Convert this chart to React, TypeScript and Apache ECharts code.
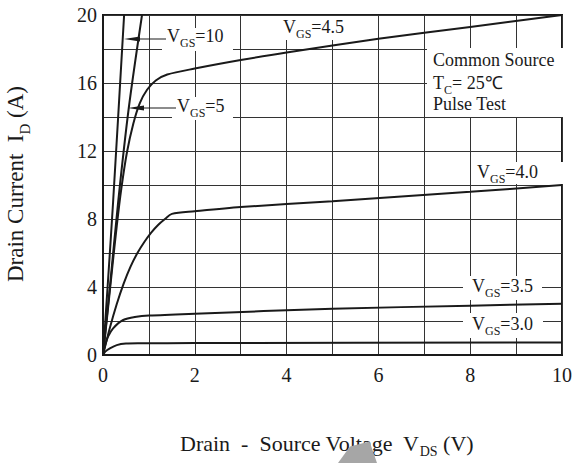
import React, { useEffect, useRef } from "react";
import * as echarts from "echarts";

const FONT = '"Liberation Serif", "Times New Roman", serif';
const INK = "#1a1a1a";

const xTicks = [0, 2, 4, 6, 8, 10];
const yTicks = [0, 4, 8, 12, 16, 20];

const vgs10: number[][] = [[0, 0], [0.1, 4], [0.22, 9], [0.46, 20]];
const vgs5: number[][] = [[0, 0], [0.15, 4], [0.33, 9], [0.56, 14.5], [0.85, 20]];
const vgs45: number[][] = [
  [0, 0], [0.1, 2.5], [0.2, 5.1], [0.3, 7.6], [0.4, 9.8], [0.52, 11.9], [0.66, 13.6],
  [0.8, 14.8], [0.96, 15.6], [1.15, 16.15], [1.4, 16.5], [2, 16.85], [3, 17.35],
  [4, 17.8], [6, 18.6], [8, 19.3], [10, 20],
];
const vgs40: number[][] = [
  [0, 0], [0.15, 1.6], [0.3, 3.0], [0.45, 4.2], [0.6, 5.2], [0.75, 6.0], [0.9, 6.65],
  [1.05, 7.2], [1.2, 7.65], [1.35, 8.0], [1.5, 8.3], [2, 8.45], [3, 8.7], [5, 9.05],
  [8, 9.6], [10, 10],
];
const vgs35: number[][] = [
  [0, 0], [0.05, 0.6], [0.11, 1.08], [0.22, 1.57], [0.44, 2.06], [0.73, 2.25],
  [1, 2.32], [2, 2.43], [5, 2.72], [8, 2.9], [10, 3.02],
];
const vgs30: number[][] = [
  [0, 0], [0.05, 0.2], [0.15, 0.39], [0.3, 0.58], [0.5, 0.67], [0.8, 0.69],
  [2, 0.7], [10, 0.74],
];

const curves = [vgs10, vgs5, vgs45, vgs40, vgs35, vgs30];

const rich = {
  v: { fontSize: 18, fontFamily: FONT, color: INK, lineHeight: 20, verticalAlign: "top" },
  s: { fontSize: 12, fontFamily: FONT, color: INK, lineHeight: 22, verticalAlign: "bottom" },
  p: { fontSize: 18, fontFamily: FONT, color: INK, lineHeight: 14 },
};
const richX = {
  v: { fontSize: 22, fontFamily: FONT, color: INK, lineHeight: 24, verticalAlign: "top" },
  s: { fontSize: 14, fontFamily: FONT, color: INK, lineHeight: 26, verticalAlign: "bottom" },
};
const richY = {
  v: { fontSize: 23, fontFamily: FONT, color: INK, lineHeight: 26, verticalAlign: "top" },
  s: { fontSize: 15, fontFamily: FONT, color: INK, lineHeight: 28, verticalAlign: "bottom" },
};

function label(text: string, x: number, y: number, align = "left", r: any = rich) {
  return {
    type: "text",
    x,
    y,
    z: 3,
    style: { text, rich: r, align, verticalAlign: "middle", fill: INK, font: `18px ${FONT}` },
  };
}

function box(x: number, y: number, w: number, h: number) {
  return { type: "rect", z: 1, shape: { x, y, width: w, height: h }, style: { fill: "#fff" } };
}

export default function App() {
  const ref = useRef<HTMLDivElement>(null);
  useEffect(() => {
    document.body.style.margin = "0";
    if (!ref.current) return;
    const chart = echarts.init(ref.current, null, { renderer: "svg" });
    chart.setOption({
      animation: false,
      backgroundColor: "#fff",
      grid: { left: 103, right: 9, top: 15, bottom: 108, show: true, borderColor: INK, borderWidth: 2 },
      xAxis: {
        type: "value",
        min: 0,
        max: 10,
        interval: 1,
        axisLine: { show: true, lineStyle: { color: INK, width: 2 } },
        axisTick: { show: false },
        splitLine: { show: true, lineStyle: { color: "#333", width: 1 } },
        axisLabel: {
          margin: 10,
          color: INK,
          fontFamily: FONT,
          fontSize: 20,
          formatter: (v: number) => (xTicks.includes(v) ? String(v) : ""),
        },
      },
      yAxis: {
        type: "value",
        min: 0,
        max: 20,
        interval: 2,
        axisLine: { show: true, lineStyle: { color: INK, width: 2 } },
        axisTick: { show: false },
        splitLine: { show: true, lineStyle: { color: "#333", width: 1 } },
        axisLabel: {
          margin: 6,
          color: INK,
          fontFamily: FONT,
          fontSize: 20,
          formatter: (v: number) => (yTicks.includes(v) ? String(v) : ""),
        },
      },
      series: curves.map((d) => ({
        type: "line",
        data: d,
        smooth: 0.3,
        showSymbol: false,
        symbol: "none",
        clip: true,
        lineStyle: { color: INK, width: 2 },
        z: 2,
      })),
      graphic: [
        box(162, 28, 71, 23),
        box(172, 97, 61, 23),
        box(278, 16, 72, 24),
        box(427, 48, 137, 69),
        box(472, 162, 92, 22),
        box(463, 276, 79, 24),
        box(463, 313, 80, 25),
        { type: "line", z: 3, shape: { x1: 166, y1: 39, x2: 132, y2: 39 }, style: { stroke: INK, lineWidth: 1.2 } },
        { type: "polygon", z: 3, shape: { points: [[124, 39], [140, 36.5], [140, 41.5]] }, style: { fill: INK } },
        { type: "line", z: 3, shape: { x1: 176, y1: 108, x2: 136, y2: 108 }, style: { stroke: INK, lineWidth: 1.2 } },
        { type: "polygon", z: 3, shape: { points: [[128, 108], [144, 105.5], [144, 110.5]] }, style: { fill: INK } },
        label("{v|V}{s|GS}{v|=10}", 167, 38),
        label("{v|V}{s|GS}{v|=5}", 177, 108),
        label("{v|V}{s|GS}{v|=4.5}", 283, 29),
        label("{v|V}{s|GS}{v|=4.0}", 477, 174),
        label("{v|V}{s|GS}{v|=3.5}", 472, 288),
        label("{v|V}{s|GS}{v|=3.0}", 472, 326),
        label("{v|Common Source}", 433, 61),
        label("{v|T}{s|C}{v|= 25℃}", 433, 84.5),
        label("{p|Pulse Test}", 433, 103.5),
        label("{v|Drain  -  Source Voltage  V}{s|DS}{v| (V)}", 180, 445, "left", richX),
        {
          type: "text",
          x: 18,
          y: 184,
          rotation: Math.PI / 2,
          z: 3,
          style: {
            text: "{v|Drain Current  I}{s|D}{v| (A)}",
            rich: richY,
            align: "center",
            verticalAlign: "middle",
            fill: INK,
            font: `23px ${FONT}`,
          },
        },
        {
          type: "polygon",
          z: 4,
          shape: { points: [[350, 446.5], [369.5, 441.5], [377, 463], [338, 463]] },
          style: { fill: "#a6a6a6" },
        },
      ],
    });
    return () => chart.dispose();
  }, []);
  return <div ref={ref} style={{ width: 575, height: 463 }} />;
}
